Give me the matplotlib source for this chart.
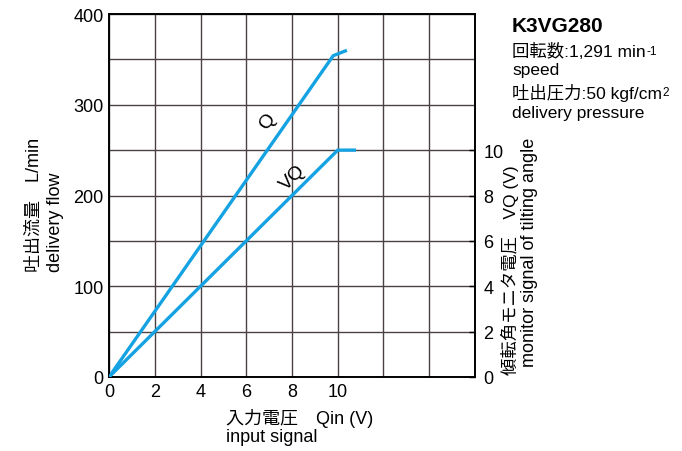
import matplotlib
matplotlib.use('Agg')
import matplotlib.pyplot as plt

plt.rcParams['font.family'] = ['Liberation Sans', 'Noto Sans CJK JP']

# input signal Qin (V) vs delivery flow (L/min)
q_x = [0, 9.8, 10.4]
q_flow = [0, 354, 360]
# input signal Qin (V) vs monitor signal VQ (V)
vq_x = [0, 10, 10.8]
vq_volt = [0, 10, 10]

x_ticks = [0, 2, 4, 6, 8, 10, 12, 14, 16]
x_labels = ['0', '2', '4', '6', '8', '10', '', '', '']
flow_ticks = [0, 50, 100, 150, 200, 250, 300, 350, 400]
flow_labels = ['0', '', '100', '', '200', '', '300', '', '400']
vq_ticks = [0, 2, 4, 6, 8, 10]

blue = '#15a2e3'
grid_col = '#4a4242'

W, H = 682, 452
fig = plt.figure(figsize=(W / 100, H / 100), dpi=100)
ax = fig.add_axes([109 / W, 1 - 378 / H, 366 / W, 363 / H])
ax.set_xlim(0, 16)
ax.set_ylim(0, 400)
ax.set_xticks(x_ticks)
ax.set_xticklabels(x_labels)
ax.set_yticks(flow_ticks)
ax.set_yticklabels(flow_labels)
ax.tick_params(length=0, labelsize=13, pad=4)
ax.grid(True, color=grid_col, lw=1.0)
ax.set_axisbelow(True)
for s in ax.spines.values():
    s.set_linewidth(1.2)
    s.set_color('black')

ax.plot(q_x, q_flow, color=blue, lw=2.4, solid_capstyle='butt', zorder=3)

ax2 = ax.twinx()
ax2.set_ylim(0, 16)
ax2.set_yticks(vq_ticks)
ax2.tick_params(axis='y', direction='in', length=4, width=1, labelsize=13, pad=6)
for s in ax2.spines.values():
    s.set_linewidth(1.2)
ax2.plot(vq_x, vq_volt, color=blue, lw=2.4, solid_capstyle='butt', zorder=3)

ax.text(6.95, 282, 'Q', rotation=55, fontsize=14, ha='center', va='center')
ax.text(8.04, 220, 'VQ', rotation=45, fontsize=14, ha='center', va='center')


def px(x, y):
    return x / W, 1 - y / H


# axis labels
fig.text(*px(34, 272), '吐出流量　L/min', rotation=90, fontsize=13, ha='center', va='bottom')
fig.text(*px(56, 272), 'delivery flow', rotation=90, fontsize=13, ha='center', va='bottom')
fig.text(*px(510, 375), '傾転角モニタ電圧　VQ (V)', rotation=90, fontsize=12.5, ha='center', va='bottom')
fig.text(*px(530, 367), 'monitor signal of tilting angle', rotation=90, fontsize=13,
         ha='center', va='bottom')
fig.text(*px(226, 424), '入力電圧　Qin (V)', fontsize=13, ha='left', va='baseline')
fig.text(*px(226, 442), 'input signal', fontsize=13, ha='left', va='baseline')

# conditions
fig.text(*px(512, 32), 'K3VG280', fontsize=15, fontweight='bold', ha='left', va='baseline')
t1 = fig.text(*px(512, 57), '回転数:1,291 min', fontsize=12.5, ha='left', va='baseline')
ax.annotate('-1', xy=(1, 1), xycoords=t1, xytext=(0.5, -2), textcoords='offset points',
            fontsize=8.5, ha='left', va='top')
fig.text(*px(512, 75), 'speed', fontsize=12.5, ha='left', va='baseline')
t2 = fig.text(*px(512, 99), '吐出圧力:50 kgf/cm', fontsize=12.5, ha='left', va='baseline')
ax.annotate('2', xy=(1, 1), xycoords=t2, xytext=(0.5, -2), textcoords='offset points',
            fontsize=8.5, ha='left', va='top')
fig.text(*px(512, 118), 'delivery pressure', fontsize=12.5, ha='left', va='baseline')

fig.savefig('out.png', dpi=100)
